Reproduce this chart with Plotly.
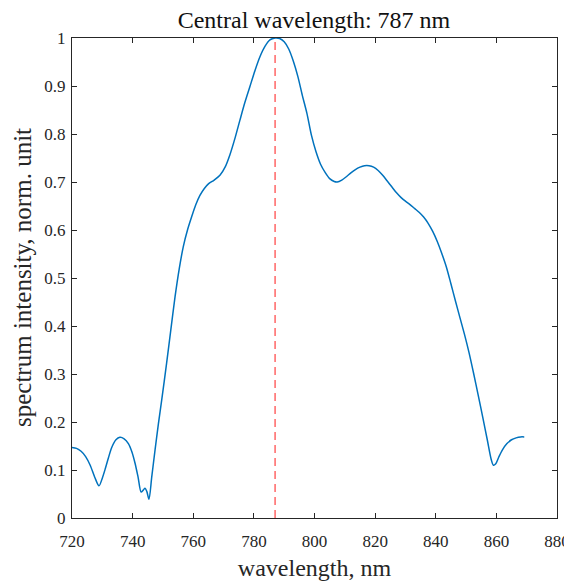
import plotly.graph_objects as go

# wavelength (nm) and normalized spectrum intensity
wavelength = [720.0, 721.5, 723.0, 724.5, 726.0, 727.5, 728.9, 730.0, 731.0, 732.0,
              733.1, 734.5, 735.8, 737.2, 738.6, 739.8, 740.8, 741.8, 742.8, 743.5,
              744.1, 744.7, 745.4, 746.3, 747.4, 748.5, 749.6, 751.2, 752.6, 754.0,
              755.4, 756.7, 758.1, 759.5, 760.8, 762.2, 763.6, 765.0, 766.9, 768.8,
              770.5, 772.1, 773.8, 775.4, 777.0, 778.7, 780.4, 782.0, 783.7, 785.3,
              787.0, 788.5, 790.0, 791.5, 793.0, 794.5, 796.0, 797.5, 799.0, 800.5,
              802.0, 803.5, 805.0, 806.5, 807.5, 809.0, 810.5, 812.0, 813.5, 815.0,
              816.5, 818.0, 819.5, 821.0, 822.5, 824.0, 825.5, 827.0, 828.5, 830.0,
              831.5, 833.0, 834.5, 836.0, 837.5, 839.0, 840.5, 842.0, 843.5, 845.0,
              846.5, 848.0, 849.5, 851.0, 852.5, 854.0, 855.5, 857.0, 858.3, 859.0,
              859.8, 860.8, 862.0, 863.5, 865.0, 866.5, 868.0, 869.2]
intensity = [0.147, 0.145, 0.139, 0.128, 0.110, 0.085, 0.067, 0.083, 0.103, 0.125,
             0.147, 0.163, 0.168, 0.165, 0.155, 0.137, 0.114, 0.085, 0.054, 0.058,
             0.062, 0.055, 0.039, 0.085, 0.142, 0.196, 0.246, 0.322, 0.392, 0.461,
             0.520, 0.565, 0.600, 0.628, 0.652, 0.672, 0.686, 0.696, 0.704, 0.714,
             0.731, 0.757, 0.792, 0.829, 0.865, 0.899, 0.933, 0.961, 0.983, 0.996,
             1.000, 0.999, 0.992, 0.977, 0.952, 0.920, 0.880, 0.843, 0.797, 0.763,
             0.737, 0.720, 0.707, 0.701, 0.700, 0.704, 0.711, 0.719, 0.726, 0.731,
             0.734, 0.734, 0.731, 0.724, 0.714, 0.702, 0.690, 0.678, 0.668, 0.660,
             0.653, 0.645, 0.637, 0.627, 0.614, 0.597, 0.576, 0.551, 0.523, 0.488,
             0.452, 0.417, 0.382, 0.344, 0.301, 0.256, 0.210, 0.163, 0.122, 0.110,
             0.113, 0.127, 0.142, 0.155, 0.163, 0.167, 0.169, 0.169]

central_wavelength = 787
x_ticks = [720, 740, 760, 780, 800, 820, 840, 860, 880]
y_ticks = [0, 0.1, 0.2, 0.3, 0.4, 0.5, 0.6, 0.7, 0.8, 0.9, 1]
y_tick_labels = ["0", "0.1", "0.2", "0.3", "0.4", "0.5", "0.6", "0.7", "0.8", "0.9", "1"]

FONT = "Liberation Serif"
AX = "#262626"
W, H = 564, 573  # page body has an 8px margin

fig = go.Figure()
fig.add_trace(go.Scatter(x=wavelength, y=intensity, mode="lines",
                         line=dict(color="#0072BD", width=1.5, shape="spline", smoothing=0.8),
                         showlegend=False, hoverinfo="skip"))
fig.add_trace(go.Scatter(x=[central_wavelength, central_wavelength], y=[0, 1], mode="lines",
                         line=dict(color="#ff6666", width=1.5, dash="8px,5px"),
                         showlegend=False, hoverinfo="skip"))

axis_common = dict(showgrid=False, zeroline=False, showline=True, linecolor=AX, linewidth=1,
                   mirror="ticks", ticks="inside", ticklen=5, tickcolor=AX, automargin=False,
                   ticklabeloverflow="allow",
                   tickfont=dict(family=FONT, size=17, color=AX))

fig.update_layout(
    width=W, height=H,
    margin=dict(l=64, r=15, t=30, b=63),
    paper_bgcolor="white", plot_bgcolor="white",
    title=dict(text="Central wavelength: 787 nm", x=306 / W, xanchor="center",
               y=1 - 12 / H, yanchor="middle",
               font=dict(family=FONT, size=24, color="#111111")),
    xaxis=dict(range=[720, 880], tickvals=x_ticks, ticklabelstandoff=8,
               title=dict(text="wavelength, nm", font=dict(family=FONT, size=24, color=AX), standoff=8),
               **axis_common),
    yaxis=dict(range=[0, 1], tickvals=y_ticks, ticktext=y_tick_labels, ticklabelstandoff=2,
               **axis_common),
    annotations=[dict(text="spectrum intensity, norm. unit", textangle=-90,
                      xref="paper", yref="paper", x=0, y=0.5, xanchor="center", yanchor="middle",
                      xshift=-50, showarrow=False,
                      font=dict(family=FONT, size=25, color=AX))],
)

fig.write_html("out.html")
